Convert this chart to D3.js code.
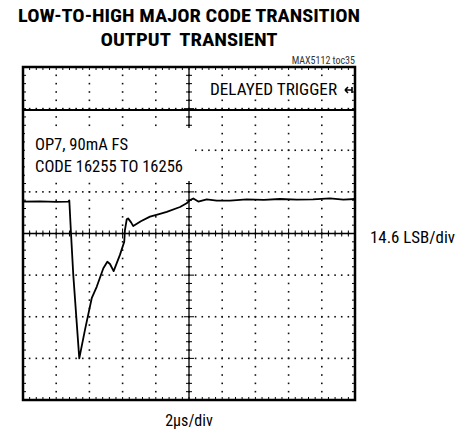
<!DOCTYPE html>
<html>
<head>
<meta charset="utf-8" />
<title>Low-to-high major code transition output transient</title>
<script src="https://d3js.org/d3.v7.min.js"></script>
<style>
  body { margin: 0; background: #ffffff; }
  text { font-family: "Liberation Sans Narrow", "Roboto Condensed", "Arial Narrow", sans-serif; }
</style>
</head>
<body>
<svg id="viz"></svg>

<script>
// trace (time in us, output in LSB)
var timeUs = [0, 1.0, 2.0, 2.73, 2.79, 2.89, 3.03, 3.39, 3.73, 4.14, 4.44, 4.84, 5.08, 5.24, 5.46, 5.84, 6.10, 6.14, 6.25, 6.33, 6.51, 6.64, 7.1, 7.65, 8.2, 8.66, 9.46, 9.86, 10.06, 10.26, 10.56, 11.07, 11.67, 12.47, 13.48, 14.5, 15.48, 16.5, 17.47, 18.49, 19.3, 20];
var outLsb = [11.2, 11.3, 11.1, 11.2, 11.6, 0.2, -14.6, -43.8, -33.9, -22.7, -18.7, -12.2, -9.9, -10.7, -13.2, -7.5, -2.9, 1.2, 5.0, 5.3, 3.9, 2.6, 4.3, 5.9, 6.8, 7.6, 9.3, 10.6, 11.7, 12.3, 11.2, 12.0, 11.5, 11.5, 12.0, 11.8, 12.1, 11.9, 12.0, 12.3, 11.9, 12.1];

var titleLines = ["LOW-TO-HIGH MAJOR CODE TRANSITION", "OUTPUT  TRANSIENT"];
var noteLines = ["OP7, 90mA FS", "CODE 16255 TO 16256"];
var xDivLabel = "2\u00b5s/div";
var yDivLabel = "14.6 LSB/div";
var triggerLabel = "DELAYED TRIGGER";
var tocLabel = "MAX5112 toc35";

var xDivs = 10, yDivs = 8, minor = 5;
var usPerDiv = 2, lsbPerDiv = 14.6;

var W = 468, H = 435;
var box = {left: 23, top: 67, right: 355, bottom: 400};

var svg = d3.select("#viz").attr("width", W).attr("height", H);

var x = d3.scaleLinear().domain([0, xDivs * usPerDiv]).range([box.left, box.right]);
var y = d3.scaleLinear().domain([-yDivs / 2 * lsbPerDiv, yDivs / 2 * lsbPerDiv]).range([box.bottom, box.top]);

// title
svg.append("text").attr("x", 189).attr("y", 22).attr("text-anchor", "middle")
  .attr("font-size", 19).attr("font-weight", "bold")
  .attr("textLength", 342).attr("lengthAdjust", "spacingAndGlyphs")
  .text(titleLines[0]);
svg.append("text").attr("x", 189).attr("y", 46).attr("text-anchor", "middle")
  .attr("font-size", 19).attr("font-weight", "bold")
  .attr("textLength", 177).attr("lengthAdjust", "spacingAndGlyphs")
  .style("white-space", "pre")
  .text(titleLines[1]);
svg.append("text").attr("x", box.right).attr("y", 64).attr("text-anchor", "end")
  .attr("font-size", 10).attr("fill", "#333").text(tocLabel);

// grid: dotted lines on every division
var g = svg.append("g");
var xMajor = d3.range(1, xDivs).map(function(i) { return i * usPerDiv; });
var yMajor = d3.range(1, yDivs).map(function(i) { return (i - yDivs / 2) * lsbPerDiv; });
var xMinor = d3.range(1, xDivs * minor).map(function(i) { return i * usPerDiv / minor; });
var yMinor = d3.range(1, yDivs * minor).map(function(i) { return (i - yDivs * minor / 2) * lsbPerDiv / minor; });

xMajor.forEach(function(t) {
  yMinor.forEach(function(v) {
    g.append("rect").attr("x", x(t) - 0.8).attr("y", y(v) - 0.8)
      .attr("width", 1.6).attr("height", 1.6).attr("fill", "#111");
  });
});
yMajor.forEach(function(v) {
  xMinor.forEach(function(t) {
    g.append("rect").attr("x", x(t) - 0.8).attr("y", y(v) - 0.8)
      .attr("width", 1.6).attr("height", 1.6).attr("fill", "#111");
  });
});

// centre axes with minor ticks
svg.append("line").attr("x1", box.left).attr("x2", box.right)
  .attr("y1", y(0)).attr("y2", y(0)).attr("stroke", "#000").attr("stroke-width", 1.3);
svg.append("line").attr("x1", x(10)).attr("x2", x(10))
  .attr("y1", box.top).attr("y2", box.bottom).attr("stroke", "#000").attr("stroke-width", 1.3);
xMinor.forEach(function(t, i) {
  var len = ((i + 1) % minor == 0) ? 5 : 3;
  svg.append("line").attr("x1", x(t)).attr("x2", x(t))
    .attr("y1", y(0) - len).attr("y2", y(0) + len).attr("stroke", "#000").attr("stroke-width", 1);
  // border ticks
  svg.append("line").attr("x1", x(t)).attr("x2", x(t))
    .attr("y1", box.top).attr("y2", box.top + 3).attr("stroke", "#000");
  svg.append("line").attr("x1", x(t)).attr("x2", x(t))
    .attr("y1", box.bottom).attr("y2", box.bottom - 3).attr("stroke", "#000");
});
yMinor.forEach(function(v, i) {
  var len = ((i + 1) % minor == 0) ? 5 : 3;
  svg.append("line").attr("y1", y(v)).attr("y2", y(v))
    .attr("x1", x(10) - len).attr("x2", x(10) + len).attr("stroke", "#000").attr("stroke-width", 1);
  svg.append("line").attr("y1", y(v)).attr("y2", y(v))
    .attr("x1", box.left).attr("x2", box.left + 3).attr("stroke", "#000");
  svg.append("line").attr("y1", y(v)).attr("y2", y(v))
    .attr("x1", box.right).attr("x2", box.right - 3).attr("stroke", "#000");
});

// delayed trigger separator
svg.append("line").attr("x1", box.left).attr("x2", box.right)
  .attr("y1", 110).attr("y2", 110).attr("stroke", "#000").attr("stroke-width", 2.2);

// note block with white backing
svg.append("rect").attr("x", box.left + 2).attr("y", 128).attr("width", 170).attr("height", 53).attr("fill", "#fff");
var noteWidths = [93, 148];
noteLines.forEach(function(s, i) {
  svg.append("text").attr("x", 35).attr("y", 150 + i * 22).attr("font-size", 16)
    .attr("textLength", noteWidths[i]).attr("lengthAdjust", "spacingAndGlyphs").text(s);
});

// trigger label and marker
svg.append("rect").attr("x", 205).attr("y", 77).attr("width", 146).attr("height", 22).attr("fill", "#fff");
svg.append("text").attr("x", 210).attr("y", 95).attr("font-size", 16)
  .attr("textLength", 127).attr("lengthAdjust", "spacingAndGlyphs").text(triggerLabel);
svg.append("path").attr("d", "M345,90 L352,90 M345,90 L348,87 M345,90 L348,93 M352,87 L352,93")
  .attr("fill", "none").attr("stroke", "#000").attr("stroke-width", 1.6);

// trace
var data = timeUs.map(function(t, i) { return {t: t, v: outLsb[i]}; });
svg.append("path").datum(data)
  .attr("fill", "none").attr("stroke", "#000").attr("stroke-width", 1.8)
  .attr("stroke-linejoin", "round")
  .attr("d", d3.line().x(function(d) { return x(d.t); }).y(function(d) { return y(d.v); }));

// frame
svg.append("rect").attr("x", box.left).attr("y", box.top)
  .attr("width", box.right - box.left).attr("height", box.bottom - box.top)
  .attr("fill", "none").attr("stroke", "#000").attr("stroke-width", 2.5);

// scale labels
svg.append("text").attr("x", 370).attr("y", 243).attr("font-size", 16)
  .attr("textLength", 85).attr("lengthAdjust", "spacingAndGlyphs").text(yDivLabel);
svg.append("text").attr("x", x(10)).attr("y", 426).attr("text-anchor", "middle").attr("font-size", 16).text(xDivLabel);
</script>
</body>
</html>
